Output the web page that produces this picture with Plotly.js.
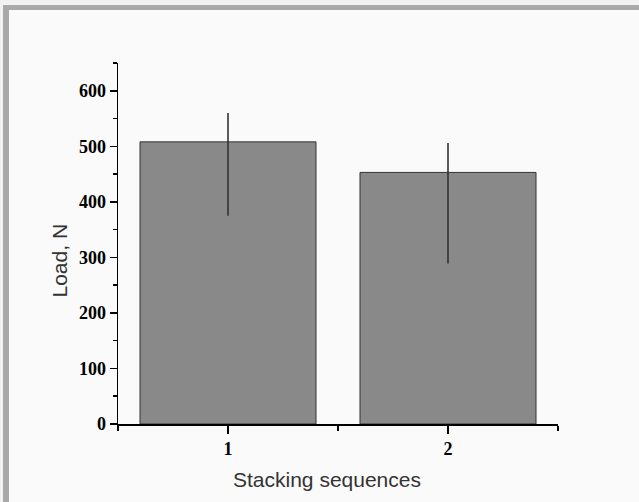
<!DOCTYPE html>
<html>
<head>
<meta charset="utf-8">
<script src="https://cdn.plot.ly/plotly-3.0.1.min.js"></script>
<style>
html,body{margin:0;padding:0;width:639px;height:502px;overflow:hidden;background:#f2f2f2;}
#frame{position:absolute;left:3px;top:5px;width:700px;height:493px;background:#fafafa;border-left:6px solid #a9a9a9;border-top:5px solid #a9a9a9;border-bottom:2px solid #bdbdbd;}
#chart{position:absolute;left:0;top:0;width:639px;height:502px;}
</style>
</head>
<body>
<div id="frame"></div>
<div id="chart"></div>
<script>
const categories = [1, 2];
const loads = [508, 453];
const errPlus = [52, 53];
const errMinus = [133, 164];
const xTitle = "Stacking sequences";
const yTitle = "Load, N";

const trace = {
  type: 'bar',
  x: categories,
  y: loads,
  width: 0.8,
  marker: {color: '#898989', line: {color: '#333333', width: 1}},
  error_y: {type: 'data', symmetric: false, array: errPlus, arrayminus: errMinus,
            width: 0, thickness: 1.6, color: '#333333'},
  hoverinfo: 'none'
};

const tickFont = {family: 'Liberation Serif, Times New Roman, serif', size: 18, color: '#000', weight: 'bold'};

const layout = {
  width: 639, height: 502,
  margin: {l: 118, r: 81, t: 63, b: 78, pad: 0},
  paper_bgcolor: 'rgba(0,0,0,0)',
  plot_bgcolor: 'rgba(0,0,0,0)',
  showlegend: false,
  xaxis: {
    range: [0.5, 2.5], tickvals: categories, ticktext: categories.map(String),
    ticks: 'outside', ticklen: 8, tickwidth: 1.5, tickcolor: '#000',
    minor: {tickvals: [0.5, 1.5, 2.5], ticks: 'outside', ticklen: 5, tickwidth: 1.5, tickcolor: '#000'},
    showline: true, linecolor: '#000', linewidth: 1.5,
    showgrid: false, zeroline: false, tickfont: tickFont, fixedrange: true
  },
  yaxis: {
    range: [0, 650], dtick: 100, tick0: 0,
    ticks: 'outside', ticklen: 7, tickwidth: 1.5, tickcolor: '#000',
    minor: {dtick: 50, ticks: 'outside', ticklen: 4, tickwidth: 1.5, tickcolor: '#000'},
    showline: true, linecolor: '#000', linewidth: 1.5,
    showgrid: false, zeroline: false, tickfont: tickFont, fixedrange: true
  },
  annotations: [
    {text: xTitle, xref: 'paper', yref: 'paper', x: 0.474, y: -0.155, showarrow: false,
     xanchor: 'center', yanchor: 'middle',
     font: {family: 'Liberation Sans, Arial, sans-serif', size: 21, color: '#333'}},
    {text: yTitle, xref: 'paper', yref: 'paper', x: -0.134, y: 0.453, showarrow: false,
     textangle: -90, xanchor: 'center', yanchor: 'middle',
     font: {family: 'Liberation Sans, Arial, sans-serif', size: 21, color: '#333'}}
  ]
};

Plotly.newPlot('chart', [trace], layout, {displayModeBar: false, staticPlot: true});
</script>
</body>
</html>
